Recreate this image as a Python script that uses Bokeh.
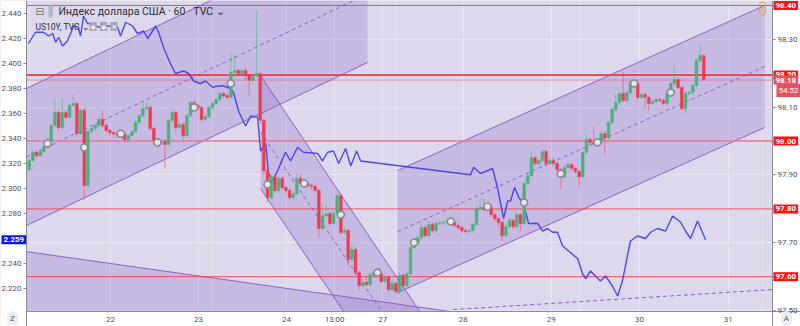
from bokeh.plotting import figure
from bokeh.models import (Range1d, LinearAxis, FixedTicker, NumeralTickFormatter, Label,
                          ColumnDataSource, CustomJSTickFormatter, Grid)
from bokeh.embed import file_html
from bokeh.resources import INLINE

# ---------------- DATA ----------------
# US Dollar Index (DXY), hourly candles, bar index 0..184
first_open = 97.916
closes = [97.943, 97.966, 97.957, 97.969, 97.984, 98.002, 98.046, 98.084, 98.040, 98.084,
          98.070, 98.105, 98.111, 98.022, 98.090, 97.869, 98.028, 98.037, 98.046, 98.064,
          98.046, 98.031, 98.025, 98.022, 98.019, 98.022, 98.005, 98.016, 98.028, 98.055,
          98.075, 98.096, 98.099, 98.037, 98.002, 97.996, 97.999, 97.990, 98.061, 98.084,
          98.040, 98.049, 98.016, 98.075, 98.114, 98.105, 98.099, 98.064, 98.072, 98.099,
          98.111, 98.123, 98.140, 98.134, 98.129, 98.202, 98.208, 98.199, 98.208, 98.193,
          98.179, 98.193, 98.199, 98.061, 97.913, 97.833, 97.895, 97.854, 97.890, 97.863,
          97.854, 97.833, 97.845, 97.890, 97.875, 97.874, 97.869, 97.866, 97.854, 97.742,
          97.780, 97.786, 97.757, 97.786, 97.839, 97.730, 97.736, 97.651, 97.680, 97.612,
          97.574, 97.583, 97.577, 97.606, 97.612, 97.609, 97.586, 97.598, 97.562, 97.580,
          97.556, 97.604, 97.574, 97.609, 97.686, 97.701, 97.715, 97.745, 97.721, 97.754,
          97.736, 97.757, 97.758, 97.760, 97.763, 97.760, 97.751, 97.745, 97.736, 97.733,
          97.736, 97.754, 97.801, 97.804, 97.798, 97.804, 97.783, 97.771, 97.760, 97.721,
          97.748, 97.766, 97.748, 97.783, 97.757, 97.875, 97.898, 97.951, 97.934, 97.943,
          97.969, 97.934, 97.943, 97.934, 97.916, 97.895, 97.922, 97.931, 97.919, 97.910,
          97.895, 97.966, 98.005, 97.996, 97.993, 97.996, 98.022, 98.010, 98.055, 98.093,
          98.114, 98.140, 98.120, 98.143, 98.173, 98.170, 98.129, 98.137, 98.129, 98.111,
          98.117, 98.123, 98.120, 98.111, 98.140, 98.170, 98.182, 98.158, 98.096, 98.140,
          98.143, 98.164, 98.238, 98.252, 98.182]
highs = [97.950, 97.975, 97.972, 97.975, 97.990, 98.010, 98.052, 98.120, 98.095, 98.126,
         98.090, 98.112, 98.138, 98.117, 98.096, 98.096, 98.034, 98.046, 98.052, 98.070,
         98.090, 98.052, 98.037, 98.031, 98.028, 98.031, 98.028, 98.022, 98.034, 98.061,
         98.081, 98.120, 98.114, 98.105, 98.043, 98.010, 98.008, 98.005, 98.067, 98.096,
         98.090, 98.058, 98.055, 98.081, 98.120, 98.120, 98.111, 98.105, 98.081, 98.105,
         98.117, 98.129, 98.146, 98.146, 98.140, 98.262, 98.258, 98.214, 98.214, 98.214,
         98.199, 98.199, 98.385, 98.205, 98.067, 97.920, 97.903, 97.900, 97.897, 97.897,
         97.869, 97.860, 97.851, 97.903, 97.903, 97.884, 97.880, 97.875, 97.872, 97.860,
         97.815, 97.810, 97.792, 97.795, 97.848, 97.845, 97.748, 97.742, 97.700, 97.686,
         97.618, 97.592, 97.600, 97.612, 97.618, 97.618, 97.615, 97.606, 97.604, 97.590,
         97.586, 97.612, 97.610, 97.615, 97.692, 97.710, 97.724, 97.760, 97.751, 97.765,
         97.760, 97.763, 97.766, 97.766, 97.769, 97.769, 97.766, 97.757, 97.751, 97.742,
         97.742, 97.760, 97.810, 97.830, 97.830, 97.812, 97.812, 97.789, 97.777, 97.766,
         97.757, 97.775, 97.772, 97.792, 97.789, 97.880, 97.905, 97.970, 97.957, 97.950,
         97.978, 97.975, 97.950, 97.950, 97.940, 97.922, 97.928, 97.937, 97.937, 97.925,
         97.916, 97.972, 98.020, 98.011, 98.040, 98.005, 98.031, 98.028, 98.061, 98.099,
         98.140, 98.146, 98.205, 98.149, 98.179, 98.180, 98.176, 98.143, 98.143, 98.135,
         98.123, 98.129, 98.129, 98.126, 98.158, 98.176, 98.220, 98.188, 98.164, 98.146,
         98.149, 98.170, 98.244, 98.282, 98.258]
lows = [97.910, 97.937, 97.950, 97.953, 97.965, 97.978, 97.996, 98.040, 98.030, 98.034,
        98.064, 98.066, 98.102, 98.014, 98.018, 97.825, 97.855, 98.022, 98.031, 98.040,
        98.040, 98.025, 98.016, 98.010, 98.010, 98.013, 97.996, 97.996, 98.010, 98.022,
        98.049, 98.070, 98.090, 98.031, 97.987, 97.985, 97.990, 97.920, 97.984, 98.055,
        98.028, 98.034, 98.005, 98.010, 98.069, 98.099, 98.090, 98.055, 98.058, 98.066,
        98.093, 98.105, 98.117, 98.128, 98.123, 98.123, 98.196, 98.190, 98.193, 98.180,
        98.134, 98.173, 98.187, 98.050, 97.900, 97.820, 97.827, 97.848, 97.848, 97.857,
        97.848, 97.827, 97.827, 97.839, 97.869, 97.866, 97.860, 97.857, 97.848, 97.715,
        97.736, 97.774, 97.748, 97.751, 97.780, 97.724, 97.724, 97.630, 97.645, 97.606,
        97.560, 97.568, 97.571, 97.570, 97.600, 97.603, 97.580, 97.580, 97.556, 97.556,
        97.550, 97.550, 97.568, 97.568, 97.603, 97.680, 97.695, 97.709, 97.715, 97.715,
        97.730, 97.730, 97.751, 97.751, 97.754, 97.754, 97.745, 97.739, 97.730, 97.727,
        97.724, 97.730, 97.748, 97.795, 97.792, 97.792, 97.777, 97.765, 97.748, 97.705,
        97.715, 97.742, 97.740, 97.742, 97.735, 97.750, 97.869, 97.892, 97.928, 97.928,
        97.937, 97.928, 97.928, 97.925, 97.910, 97.860, 97.889, 97.916, 97.913, 97.904,
        97.860, 97.889, 97.960, 97.990, 97.987, 97.987, 97.990, 97.960, 98.004, 98.049,
        98.087, 98.108, 98.114, 98.114, 98.137, 98.164, 98.123, 98.123, 98.096, 98.090,
        98.105, 98.111, 98.114, 98.105, 98.105, 98.134, 98.164, 98.152, 98.090, 98.084,
        98.134, 98.137, 98.158, 98.232, 98.176]

# grey event circles every 10 bars
marker_bars = [5, 15, 25, 35, 45, 55, 65, 75, 85, 95, 105, 115, 125, 135, 145, 155, 165, 175]
marker_vals = [97.993, 97.981, 98.022, 97.996, 98.099, 98.170, 97.872, 97.875, 97.783, 97.612,
               97.701, 97.763, 97.807, 97.819, 97.904, 97.996, 98.170, 98.143]

# US10Y yield (left scale)
us10y_bars = [-0.2, 1.7, 3.9, 5.3, 6.4, 7.2, 8.0, 9.1, 10.4, 11.3, 12.1, 13.4, 14.0, 14.8, 15.9,
              17.3, 18.9, 21.4, 22.7, 24.1, 24.9, 26.3, 28.2, 29.5, 31.2, 32.3, 33.6, 34.5, 35.3,
              36.6, 38.5, 39.9, 42.1, 43.5, 44.8, 46.7, 48.1, 50.0, 51.4, 53.0, 54.9, 55.7, 57.1,
              59.0, 60.4, 62.3, 63.1, 64.5, 65.3, 66.4, 67.7, 69.9, 71.3, 73.2, 74.8, 78.7, 80.0,
              81.4, 83.0, 84.4, 86.3, 87.7, 89.3, 90.4, 120.4, 121.2, 123.1, 126.4, 127.7, 129.4,
              130.5, 131.3, 132.4, 133.5, 134.8, 136.2, 138.7, 140.0, 141.4, 142.8, 144.1, 145.5,
              147.1, 149.6, 150.9, 151.8, 153.1, 155.8, 157.2, 159.1, 160.5, 161.8, 164.0, 165.9,
              168.1, 169.5, 171.4, 173.6, 175.5, 177.7, 179.0, 180.4, 182.3, 184.5]
us10y_vals = [2.416, 2.425, 2.425, 2.422, 2.424, 2.417, 2.421, 2.414, 2.418, 2.424, 2.430, 2.429,
              2.422, 2.438, 2.432, 2.432, 2.429, 2.430, 2.430, 2.429, 2.422, 2.433, 2.430, 2.424,
              2.426, 2.420, 2.426, 2.430, 2.425, 2.413, 2.400, 2.392, 2.394, 2.392, 2.386, 2.384,
              2.386, 2.381, 2.382, 2.382, 2.380, 2.377, 2.362, 2.350, 2.358, 2.357, 2.330, 2.336,
              2.312, 2.306, 2.314, 2.329, 2.322, 2.333, 2.329, 2.328, 2.322, 2.329, 2.330, 2.320,
              2.332, 2.318, 2.330, 2.322, 2.311, 2.317, 2.312, 2.316, 2.301, 2.276, 2.290, 2.290,
              2.301, 2.293, 2.288, 2.272, 2.272, 2.266, 2.268, 2.265, 2.265, 2.254, 2.250, 2.244,
              2.232, 2.228, 2.234, 2.226, 2.230, 2.222, 2.214, 2.226, 2.258, 2.262, 2.260, 2.265,
              2.268, 2.266, 2.278, 2.273, 2.266, 2.260, 2.274, 2.259]
us10y_last = 2.259

# x-axis ticks (bar position -> label)
tick_pos = [22.18, 46.2, 70.2, 83.3, 96.4, 118.4, 142.4, 166.5, 190.7]
tick_labels = ["22", "23", "24", "13:00", "27", "28", "29", "30", "31"]
dxy_ticks = [97.5, 97.6, 97.7, 97.8, 97.9, 98.0, 98.1, 98.2, 98.3, 98.4]
us10y_ticks = [2.22, 2.24, 2.26, 2.28, 2.30, 2.32, 2.34, 2.36, 2.38, 2.40, 2.42, 2.44]

# horizontal levels (DXY)
levels = [98.40, 98.195, 98.00, 97.80, 97.60]
level_labels = ["98.40", "98.20", "98.00", "97.80", "97.60"]
last_price = 98.18
last_label = "98.18"
countdown = "54:52"

# parallel channels: base line (x0,y0)->(x1,y1), offset of parallel line
channels = [
    dict(x0=-0.75, y0=97.751, x1=92.3, y1=98.232, w=0.404, mid=True),
    dict(x0=63.1, y0=98.193, x1=110.0, y1=97.442, w=-0.333, mid=True),
    dict(x0=100.5, y0=97.553, x1=200.6, y1=98.040, w=0.360, mid=True),
    dict(x0=-0.75, y0=97.674, x1=130.0, y1=97.474, w=-0.5, mid=False),
]
dash_line = dict(x0=115.7, y0=97.503, x1=202.75, y1=97.562)

# ---------------- FIGURE ----------------
PXB, PYB = 3.666, 339.0              # pixels per bar / per DXY unit
X0, X1 = -0.75, 202.75               # plotting area (bars)
Y0, Y1 = 97.4973, 98.4147            # plotting area (DXY)
XL, XR = X0 - 26 / PXB, X1 + 28 / PXB
YB = Y1 - 326 / PYB
p = figure(width=800, height=326, x_range=Range1d(XL, XR), y_range=Range1d(YB, Y1),
           output_backend="svg", toolbar_location=None, tools="",
           x_axis_location=None, y_axis_location=None, min_border=0)
p.extra_y_ranges = {"us10y": Range1d(2.4504 - 326 / 1250.0, 2.4504)}
p.background_fill_color = "#ddd8eb"
p.border_fill_color = "white"
p.outline_line_color = None

FONT = "Roboto"
GRAY = "#50535e"
AXC = "#8a8d96"

ra = LinearAxis(fixed_location=X1, ticker=FixedTicker(ticks=dxy_ticks),
                formatter=NumeralTickFormatter(format="0.00"))
la = LinearAxis(y_range_name="us10y", fixed_location=X0, ticker=FixedTicker(ticks=us10y_ticks),
                formatter=NumeralTickFormatter(format="0.000"))
xa = LinearAxis(fixed_location=Y0, ticker=FixedTicker(ticks=tick_pos), bounds=(X0, XR),
                formatter=CustomJSTickFormatter(args=dict(pos=tick_pos, lab=tick_labels), code="""
const k = pos.findIndex(v => Math.abs(v - tick) < 1e-6);
return k >= 0 ? lab[k] : "";
"""))
p.add_layout(ra, "right")
p.add_layout(la, "left")
p.add_layout(xa, "below")
for ax in (ra, la, xa):
    ax.major_label_text_font_size = "8px"
    ax.major_label_text_font = FONT
    ax.major_label_text_color = GRAY
    ax.major_tick_in = 0
    ax.minor_tick_out = 0
    ax.minor_tick_in = 0
    ax.axis_line_color = AXC
    ax.major_tick_line_color = AXC
ra.major_tick_out = 3
la.major_tick_out = 3
ra.major_label_standoff = 2
la.major_label_standoff = 2
xa.major_tick_out = 0
xa.major_label_standoff = 4

p.add_layout(Grid(dimension=0, ticker=FixedTicker(ticks=tick_pos), grid_line_color="white", grid_line_alpha=0.35))
p.add_layout(Grid(dimension=1, ticker=FixedTicker(ticks=dxy_ticks), grid_line_color="white", grid_line_alpha=0.35))

# channels
CH = "#9575cd"
LC = "#8c62c8"
for c in channels:
    xs = [c["x0"], c["x1"], c["x1"], c["x0"]]
    ys = [c["y0"], c["y1"], c["y1"] + c["w"], c["y0"] + c["w"]]
    p.patch(xs, ys, fill_color=CH, fill_alpha=0.3, line_color=None)
for c in channels:
    p.line([c["x0"], c["x1"]], [c["y0"], c["y1"]], line_color=LC, line_width=1)
    if c["mid"]:
        p.line([c["x0"], c["x1"]], [c["y0"] + c["w"], c["y1"] + c["w"]], line_color=LC, line_width=1)
        p.line([c["x0"], c["x1"]], [c["y0"] + c["w"] / 2, c["y1"] + c["w"] / 2],
               line_color=LC, line_width=1, line_dash="4 3")
p.line([dash_line["x0"], dash_line["x1"]], [dash_line["y0"], dash_line["y1"]],
       line_color=LC, line_width=1, line_dash="4 3")

# horizontal levels
for lv in levels:
    if lv == 98.00:
        col, lw, la_ = "#e27a92", 2, 0.8
    elif lv == 98.195:
        col, lw, la_ = "#f0303f", 2, 0.85
    else:
        col, lw, la_ = "#ef3244", 1, 0.85
    p.segment(x0=[X0], y0=[lv], x1=[X1], y1=[lv], line_color=col, line_width=lw, line_alpha=la_)
p.segment(x0=[X0], y0=[last_price], x1=[X1], y1=[last_price], line_color="#e8465a",
          line_width=1, line_dash="1 1")

# US10Y line
p.line(us10y_bars, us10y_vals, y_range_name="us10y", line_color="#3b3bef", line_width=1.4, line_alpha=0.9)

# candles
opens = [first_open] + closes[:-1]
n = len(closes)
UP, DN = "#47b27a", "#ef3a4f"
cols = [UP if c >= o else DN for o, c in zip(opens, closes)]
src = ColumnDataSource(dict(
    x=list(range(n)), o=opens, c=closes, h=highs, l=lows,
    top=[max(o, c) for o, c in zip(opens, closes)],
    bot=[min(o, c) for o, c in zip(opens, closes)],
    col=cols))
p.segment(x0="x", y0="h", x1="x", y1="l", source=src, line_color="col", line_alpha=0.5, line_width=1)
p.vbar(x="x", top="top", bottom="bot", width=0.74, source=src, fill_color="col", line_color="col", line_width=0.5)

# event circles
p.scatter(marker_bars, marker_vals, size=7, fill_color="#e6e6ea", line_color="#8a8a90", line_width=1.6)

# white axis margins (outside the plotting area)
p.quad(left=[XL, X1, XL], right=[X0, XR, XR], bottom=[YB, YB, YB], top=[Y1, Y1, Y0],
       fill_color="white", line_color=None)

# ---------------- TEXT / BADGES ----------------
def px2x(px):
    return XL + px / PXB

def py2y(py):
    return Y1 - py / PYB

for lv, lab in zip(levels, level_labels):
    p.add_layout(Label(x=px2x(773), y=lv, text=lab, text_font=FONT, text_font_size="8px",
                       text_font_style="bold", text_color="white", text_baseline="middle",
                       text_align="left", background_fill_color="#ff1010", padding=2))
p.add_layout(Label(x=px2x(773), y=last_price, text=last_label, text_font=FONT, text_font_size="8px",
                   text_font_style="bold", text_color="white", text_baseline="middle", text_align="left",
                   background_fill_color="#e8505f", padding=2))
p.add_layout(Label(x=px2x(776), y=py2y(90), text=countdown, text_font=FONT, text_font_size="8px",
                   text_color="white", text_baseline="middle", text_align="left",
                   background_fill_color="#e8505f", padding=2))
p.add_layout(Label(x=px2x(1), y=us10y_last, y_range_name="us10y", text="2.259", text_font=FONT,
                   text_font_size="8px", text_font_style="bold", text_color="white",
                   text_baseline="middle", text_align="left", background_fill_color="#1212f0", padding=2))

# legend / header
p.add_layout(Label(x=px2x(35), y=py2y(11), text="⊟", text_font="DejaVu Sans", text_font_size="11px",
                   text_color="#7a7d88", text_baseline="middle"))
p.add_layout(Label(x=px2x(48), y=py2y(11), text=" ", text_font_size="9px",
                   background_fill_color="#b9b5c8", text_baseline="middle", padding=1))
p.add_layout(Label(x=px2x(58), y=py2y(11), text="Индекс доллара США · 60 · TVC ⌄", text_font=FONT,
                   text_font_size="10.5px", text_color="#2a2e39", text_baseline="middle"))
p.add_layout(Label(x=px2x(35), y=py2y(26), text="US10Y, TVC ⌄", text_font=FONT,
                   text_font_size="8.5px", text_color="#2a2e39", text_baseline="middle"))
for px, t in zip([89, 99.5, 110], ["◉", "◉", "✕"]):
    p.add_layout(Label(x=px2x(px), y=py2y(26), text=t, text_font="DejaVu Sans", text_font_size="6px",
                       text_color="white", text_baseline="middle", background_fill_color="#a9a6b5",
                       padding=1))
p.add_layout(Label(x=px2x(762), y=py2y(8), text="!", text_font=FONT, text_font_size="8px",
                   text_color="#f29b38", text_baseline="middle", text_align="center",
                   border_line_color="#f29b38", border_radius=6, padding=2))

# corner buttons
p.add_layout(Label(x=px2x(12), y=py2y(318), text="Z", text_font=FONT, text_font_size="8px",
                   text_color="#555", text_baseline="middle", text_align="center",
                   background_fill_color="#eceef3", border_radius=7, padding=3))
p.add_layout(Label(x=px2x(786), y=py2y(318), text="A", text_font=FONT, text_font_size="8px",
                   text_color="#555", text_baseline="middle", text_align="center",
                   background_fill_color="#eceef3", border_radius=7, padding=3))

open("out.html", "w").write(file_html(p, INLINE))
